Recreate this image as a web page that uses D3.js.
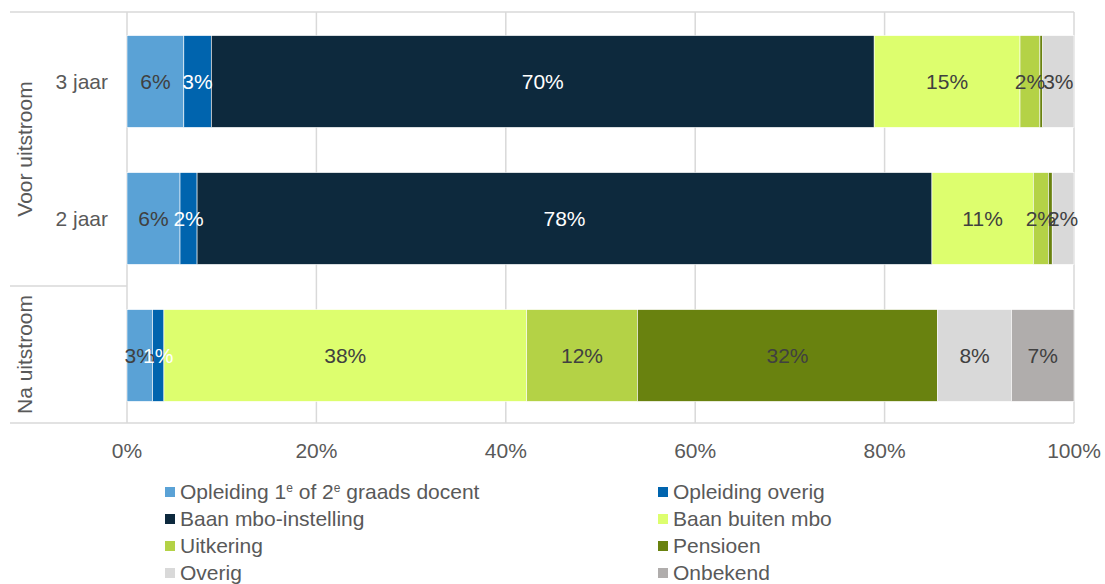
<!DOCTYPE html>
<html><head><meta charset="utf-8">
<script src="https://cdn.jsdelivr.net/npm/d3@7"></script>
<style>body{margin:0;background:#fff;} text{font-family:"Liberation Sans",Arial,sans-serif;}</style>
</head><body><svg id="c" width="1105" height="584"></svg>
<script>
const categories = ["3 jaar", "2 jaar", "Na uitstroom"];
const groups = [{name:"Voor uitstroom", members:["3 jaar","2 jaar"]},{name:"Na uitstroom", members:["Na uitstroom"]}];
const seriesNames = ["Opleiding 1e of 2e graads docent","Opleiding overig","Baan mbo-instelling","Baan buiten mbo","Uitkering","Pensioen","Overig","Onbekend"];
const colors = ["#5AA2D6","#0064AE","#0D293D","#DDFE6E","#B4D246","#69820F","#D9D9D9","#B0ADAC"];
const labelColors = ["#404040","#ffffff","#ffffff","#404040","#404040","#404040","#404040","#404040"];
// values per series, order = categories
const opleidingDocent = [6.0, 5.6, 2.7];
const opleidingOverig = [2.9, 1.8, 1.2];
const baanMbo = [70.0, 77.6, 0];
const baanBuiten = [15.4, 10.7, 38.3];
const uitkering = [2.1, 1.6, 11.7];
const pensioen = [0.3, 0.4, 31.7];
const overig = [3.3, 2.3, 7.8];
const onbekend = [0, 0, 6.6];
const seriesValues = [opleidingDocent, opleidingOverig, baanMbo, baanBuiten, uitkering, pensioen, overig, onbekend];
const tickValues = [0, 0.2, 0.4, 0.6, 0.8, 1.0];

(function(){
const svg = d3.select("#c");
const FS = 21;
const pL = 127, pR = 1074, pT = 12, pB = 423;
const x = d3.scaleLinear().domain([0,1]).range([pL, pR]);
const y = d3.scaleBand().domain(categories).range([pT, pB]).paddingInner(0.33).paddingOuter(0.165);
const grid = "#D9D9D9";

svg.append("g").selectAll("line").data(tickValues).join("line")
  .attr("x1", d=>x(d)).attr("x2", d=>x(d)).attr("y1", pT).attr("y2", pB)
  .attr("stroke", grid).attr("stroke-width", 1.5);
svg.append("line").attr("x1",10).attr("x2",pR).attr("y1",pT).attr("y2",pT).attr("stroke",grid).attr("stroke-width",1.5);
svg.append("line").attr("x1",10).attr("x2",pR).attr("y1",pB).attr("y2",pB).attr("stroke",grid).attr("stroke-width",1.5);
const sepY = (y("2 jaar")+y.bandwidth()+y("Na uitstroom"))/2;
svg.append("line").attr("x1",10).attr("x2",pL).attr("y1",sepY).attr("y2",sepY).attr("stroke",grid).attr("stroke-width",1.5);

const rows = categories.map((c,i)=>{ const o={cat:c}; seriesNames.forEach((s,j)=>o[s]=seriesValues[j][i]/100); return o;});
const stack = d3.stack().keys(seriesNames)(rows);
const gBars = svg.append("g");
stack.forEach((layer, j)=>{
  gBars.append("g").selectAll("rect").data(layer).join("rect")
    .attr("x", d=>x(d[0])).attr("width", d=>Math.max(0, x(d[1])-x(d[0])))
    .attr("y", d=>y(d.data.cat)+1).attr("height", y.bandwidth())
    .attr("fill", colors[j]).attr("stroke","#fff").attr("stroke-width",0.6);
});
stack.forEach((layer, j)=>{
  gBars.append("g").selectAll("text").data(layer.filter(d=> (d[1]-d[0]) >= 0.008)).join("text")
    .attr("x", d=>(x(d[0])+x(d[1]))/2).attr("y", d=>y(d.data.cat)+1+y.bandwidth()/2)
    .attr("text-anchor","middle").attr("dy","0.35em")
    .attr("font-size", FS).attr("fill", labelColors[j])
    .text(d=>Math.round((d[1]-d[0])*100)+"%");
});

svg.append("g").selectAll("text").data(tickValues).join("text")
  .attr("x", d=>x(d)).attr("y", 451).attr("dy","0.35em").attr("text-anchor","middle")
  .attr("font-size", FS).attr("fill","#595959").text(d3.format(".0%"));

svg.append("g").selectAll("text").data(categories.slice(0,2)).join("text")
  .attr("x", 108).attr("y", d=>y(d)+1+y.bandwidth()/2).attr("dy","0.35em").attr("text-anchor","end")
  .attr("font-size", FS).attr("fill","#595959").text(d=>d);
const groupSpans = [[pT, sepY],[sepY, pB]];
groups.forEach((g,i)=>{
  const cy = (groupSpans[i][0]+groupSpans[i][1])/2;
  svg.append("text").attr("transform",`translate(25,${cy}) rotate(-90)`)
    .attr("text-anchor","middle").attr("dy","0.35em").attr("font-size",FS).attr("fill","#595959").text(g.name);
});

const legX = [165, 658], legY0 = 492, legDy = 27;
seriesNames.forEach((s,i)=>{
  const lx = legX[i%2], ly = legY0 + Math.floor(i/2)*legDy;
  const g = svg.append("g");
  g.append("rect").attr("x", lx).attr("y", ly-5).attr("width",10).attr("height",10).attr("fill",colors[i]);
  const t = g.append("text").attr("x", lx+15).attr("y", ly+7).attr("font-size",FS).attr("fill","#595959");
  if (i===0) {
    t.append("tspan").text("Opleiding 1");
    t.append("tspan").attr("font-size",12).attr("dy",-7).text("e");
    t.append("tspan").attr("dy",7).text(" of 2");
    t.append("tspan").attr("font-size",12).attr("dy",-7).text("e");
    t.append("tspan").attr("dy",7).text(" graads docent");
  } else t.text(s);
});
})();
</script></body></html>
